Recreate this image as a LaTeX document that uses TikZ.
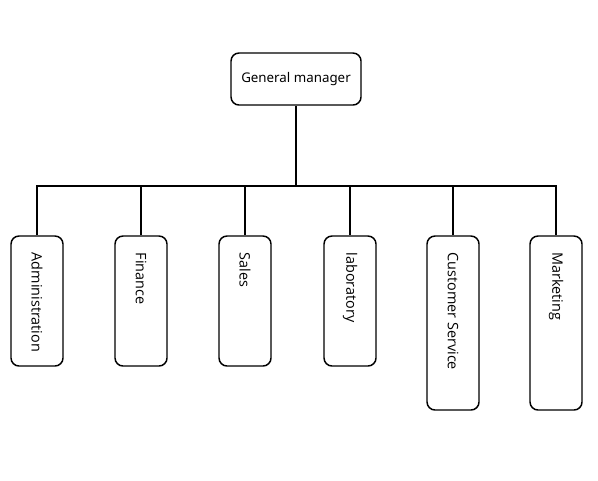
\documentclass[tikz,border=0pt]{standalone}
\usepackage{fontspec}
\setmainfont{Noto Sans}
\newfontfamily\deptfont{Open Sans}
\usepackage{tikz}
\usetikzlibrary{shapes,arrows}
\usetikzlibrary{positioning}
\tikzstyle{box} = [draw, line width=1.1pt, rounded corners=6pt, fill=white,
    inner sep=0pt]
\tikzstyle{boss} = [box, minimum width=97.5pt, minimum height=39pt,
    font=\fontsize{10}{12}\selectfont]
\tikzstyle{dept} = [box, rotate=-90, minimum height=39pt, inner xsep=12.5pt,
    align=flush left, font=\deptfont\fontsize{10.8}{13}\selectfont]
\tikzstyle{link} = [line width=1.3pt]

\begin{document}
\begin{tikzpicture}[x=0.75pt, y=-0.75pt]
  \useasboundingbox (0,0) rectangle (598,480);
  \node [boss] (gm) at (296,79) {General manager};
  \coordinate (bus) at (296,186);
  \node [dept, text width=72.5pt] (adm) at (37,301) {Administration};
  \node [dept, text width=72.5pt] (fin) at (141,301) {Finance};
  \node [dept, text width=72.5pt] (sal) at (245,301) {Sales};
  \node [dept, text width=72.5pt] (lab) at (350,301) {laboratory};
  \node [dept, text width=105.5pt] (cus) at (453,323) {Customer Service};
  \node [dept, text width=105.5pt] (mkt) at (556,323) {Marketing};
  \draw [link] (gm) -- (bus);
  \draw [link] (bus) -| (adm.west);
  \draw [link] (bus) -| (fin.west);
  \draw [link] (bus) -| (sal.west);
  \draw [link] (bus) -| (lab.west);
  \draw [link] (bus) -| (cus.west);
  \draw [link] (bus) -| (mkt.west);
\end{tikzpicture}
\end{document}
